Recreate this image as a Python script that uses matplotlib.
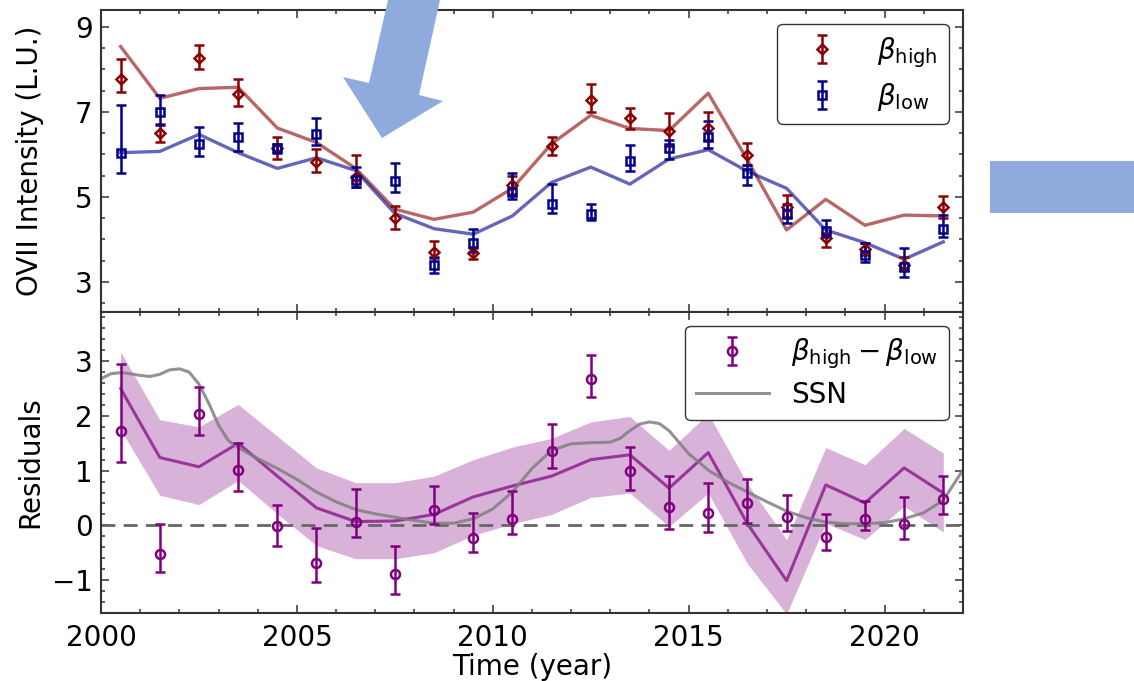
import matplotlib
matplotlib.use("Agg")
import matplotlib.pyplot as plt
from matplotlib.patches import Polygon, Rectangle
from matplotlib.ticker import MultipleLocator

# ---- data ----
years = [2000.5, 2001.5, 2002.5, 2003.5, 2004.5, 2005.5, 2006.5, 2007.5, 2008.5, 2009.5, 2010.5,
         2011.5, 2012.5, 2013.5, 2014.5, 2015.5, 2016.5, 2017.5, 2018.5, 2019.5, 2020.5, 2021.5]

beta_high = [7.78, 6.50, 8.28, 7.43, 6.14, 5.82, 5.46, 4.50, 3.69, 3.67, 5.27,
             6.20, 7.28, 6.86, 6.55, 6.63, 5.98, 4.77, 4.02, 3.78, 3.39, 4.75]
high_err_lo = [0.30, 0.22, 0.26, 0.28, 0.25, 0.23, 0.22, 0.25, 0.14, 0.13, 0.21,
               0.22, 0.29, 0.27, 0.36, 0.29, 0.23, 0.24, 0.19, 0.14, 0.11, 0.25]
high_err_hi = [0.47, 0.21, 0.30, 0.34, 0.27, 0.30, 0.52, 0.29, 0.27, 0.13, 0.21,
               0.22, 0.37, 0.23, 0.42, 0.37, 0.28, 0.28, 0.12, 0.14, 0.20, 0.27]
high_model = [8.54, 7.32, 7.55, 7.58, 6.62, 6.28, 5.67, 4.71, 4.47, 4.64, 5.20,
              6.25, 6.92, 6.61, 6.56, 7.44, 5.87, 4.22, 4.94, 4.33, 4.57, 4.55]

beta_low = [6.04, 7.00, 6.25, 6.40, 6.14, 6.48, 5.40, 5.38, 3.39, 3.91, 5.12,
            4.83, 4.59, 5.85, 6.16, 6.40, 5.56, 4.60, 4.20, 3.63, 3.35, 4.25]
low_err_lo = [0.48, 0.30, 0.28, 0.31, 0.11, 0.27, 0.16, 0.26, 0.19, 0.20, 0.18,
              0.22, 0.13, 0.25, 0.27, 0.25, 0.28, 0.21, 0.15, 0.16, 0.23, 0.20]
low_err_hi = [1.12, 0.39, 0.39, 0.34, 0.11, 0.37, 0.31, 0.41, 0.20, 0.34, 0.44,
              0.47, 0.24, 0.37, 0.18, 0.38, 0.18, 0.23, 0.26, 0.28, 0.44, 0.32]
low_model = [6.04, 6.07, 6.47, 6.04, 5.67, 5.92, 5.62, 4.61, 4.25, 4.12, 4.55,
             5.34, 5.70, 5.30, 5.89, 6.11, 5.60, 5.20, 4.22, 3.92, 3.53, 3.94]

resid = [1.73, -0.52, 2.03, 1.02, -0.01, -0.68, 0.07, -0.89, 0.29, -0.23, 0.12,
         1.35, 2.68, 0.99, 0.34, 0.22, 0.40, 0.16, -0.21, 0.12, 0.03, 0.49]
resid_err_lo = [0.57, 0.33, 0.37, 0.39, 0.36, 0.36, 0.29, 0.36, 0.26, 0.25, 0.28,
                0.30, 0.34, 0.35, 0.41, 0.34, 0.35, 0.26, 0.24, 0.21, 0.27, 0.29]
resid_err_hi = [1.22, 0.55, 0.49, 0.49, 0.39, 0.63, 0.59, 0.51, 0.43, 0.46, 0.50,
                0.50, 0.44, 0.45, 0.56, 0.55, 0.45, 0.39, 0.41, 0.32, 0.48, 0.42]
resid_model = [2.50, 1.24, 1.07, 1.50, 0.90, 0.32, 0.07, 0.08, 0.20, 0.52, 0.72,
               0.90, 1.20, 1.29, 0.68, 1.33, 0.03, -1.01, 0.74, 0.41, 1.05, 0.59]
band_lo = [1.75, 0.55, 0.38, 0.82, 0.21, -0.37, -0.61, -0.61, -0.50, -0.18, 0.03,
           0.20, 0.51, 0.59, -0.02, 0.59, -0.70, -1.62, 0.04, -0.26, 0.35, -0.12]
band_hi = [3.17, 1.93, 1.80, 2.21, 1.63, 1.05, 0.78, 0.78, 0.90, 1.20, 1.43,
           1.59, 1.89, 1.99, 1.37, 2.04, 0.76, -0.26, 1.42, 1.11, 1.77, 1.32]

ssn_t = [2000.0, 2000.25, 2000.5, 2000.75, 2001.0, 2001.25, 2001.5, 2001.75, 2002.0, 2002.25,
         2002.5, 2002.75, 2003.0, 2003.25, 2003.5, 2004.0, 2004.5, 2005.0, 2005.5, 2006.0,
         2006.5, 2007.0, 2007.5, 2008.0, 2008.5, 2009.0, 2009.5, 2009.75, 2010.0, 2010.5,
         2011.0, 2011.5, 2012.0, 2012.5, 2013.0, 2013.25, 2013.5, 2013.75, 2014.0, 2014.25,
         2014.5, 2014.75, 2015.0, 2015.5, 2016.0, 2016.5, 2017.0, 2017.5, 2018.0, 2018.5,
         2019.0, 2019.5, 2020.0, 2020.5, 2021.0, 2021.5, 2022.0]
ssn_v = [2.68, 2.77, 2.79, 2.77, 2.74, 2.72, 2.76, 2.84, 2.86, 2.80,
         2.58, 2.23, 1.83, 1.55, 1.42, 1.22, 1.04, 0.84, 0.61, 0.43,
         0.29, 0.21, 0.15, 0.09, 0.04, 0.04, 0.12, 0.21, 0.30, 0.61,
         1.04, 1.37, 1.49, 1.51, 1.52, 1.59, 1.73, 1.85, 1.89, 1.86,
         1.73, 1.52, 1.31, 1.01, 0.79, 0.61, 0.43, 0.26, 0.14, 0.06,
         0.03, 0.03, 0.05, 0.12, 0.23, 0.46, 1.01]

plt.rcParams['font.family'] = 'DejaVu Sans'
plt.rcParams['font.size'] = 20

fig = plt.figure(figsize=(11.34, 6.81), dpi=100)
ax1 = fig.add_axes([0.0891, 0.542, 0.760, 0.4433])
ax2 = fig.add_axes([0.0891, 0.0999, 0.760, 0.4421], sharex=ax1)


def style_axis(ax):
    for s in ax.spines.values():
        s.set_color('#333333')
        s.set_linewidth(1.5)
    ax.tick_params(which='both', direction='in', top=True, right=True,
                   color='#333333', width=1.1)
    ax.tick_params(which='major', length=5.5)
    ax.tick_params(which='minor', length=3)
    ax.tick_params(axis='x', pad=8)
    ax.tick_params(axis='y', pad=6)


eb_kw = dict(capsize=3.5, capthick=1.8, elinewidth=1.8, mew=1.8, linestyle='none')

# top panel
ax1.plot(years, high_model, color='darkred', alpha=0.6, lw=2.4)
ax1.plot(years, low_model, color='darkblue', alpha=0.6, lw=2.4)
ax1.errorbar(years, beta_high, yerr=[high_err_lo, high_err_hi], fmt='D', ms=5.3,
             mfc='none', color='darkred', label=r'$\beta_{\rm high}$', **eb_kw)
ax1.errorbar(years, beta_low, yerr=[low_err_lo, low_err_hi], fmt='s', ms=6.3,
             mfc='none', color='darkblue', label=r'$\beta_{\rm low}$', **eb_kw)
ax1.set_xlim(2000, 2022)
ax1.set_ylim(2.29, 9.4)
ax1.yaxis.set_major_locator(MultipleLocator(2, offset=1))
ax1.yaxis.set_minor_locator(MultipleLocator(0.5))
ax1.xaxis.set_major_locator(MultipleLocator(5))
ax1.xaxis.set_minor_locator(MultipleLocator(1))
style_axis(ax1)
ax1.tick_params(labelbottom=False)
ax1.set_ylabel('OVII Intensity (L.U.)')
ax1.yaxis.set_label_coords(-0.066, 0.5)
ax1.legend(loc='upper right', handlelength=2.4, fontsize=20, fancybox=True,
           edgecolor='#333333', framealpha=1, labelspacing=0.4)

# bottom panel
ax2.fill_between(years, band_lo, band_hi, color='purple', alpha=0.3, lw=0)
ax2.plot(years, resid_model, color='purple', alpha=0.7, lw=2.2)
ax2.axhline(0, color='#666666', ls='--', lw=2, dashes=(5, 3))
ax2.plot(ssn_t, ssn_v, color='gray', alpha=0.85, lw=2.2, label='SSN')
ax2.errorbar(years, resid, yerr=[resid_err_lo, resid_err_hi], fmt='o', ms=6.5,
             mfc='none', color='purple', label=r'$\beta_{\rm high} - \beta_{\rm low}$', **eb_kw)
ax2.set_ylim(-1.6, 3.9)
ax2.yaxis.set_major_locator(MultipleLocator(1))
ax2.yaxis.set_minor_locator(MultipleLocator(0.2))
style_axis(ax2)
ax2.set_ylabel('Residuals')
ax2.yaxis.set_label_coords(-0.066, 0.5)
ax2.set_xlabel('Time (year)', labelpad=1)
h, l = ax2.get_legend_handles_labels()
ax2.legend([h[1], h[0]], [l[1], l[0]], loc='upper right', handlelength=2.6, fontsize=20,
           fancybox=True, edgecolor='#333333', framealpha=1, labelspacing=0.35)

# overlaid slide arrows
W, H = 1134.0, 681.0
arrow_px = [(388, 0), (440, 0), (419, 95), (443, 101), (382, 138), (343, 77), (369, 83)]
fig.add_artist(Polygon([(x / W, 1 - y / H) for x, y in arrow_px], closed=True,
                       transform=fig.transFigure, facecolor='#8FAADC', edgecolor='none', zorder=10))
fig.add_artist(Rectangle((990 / W, 1 - 213 / H), (1134 - 990) / W, 52 / H,
                         transform=fig.transFigure, facecolor='#8FAADC', edgecolor='none', zorder=10))

fig.savefig('out.png', dpi=100)
